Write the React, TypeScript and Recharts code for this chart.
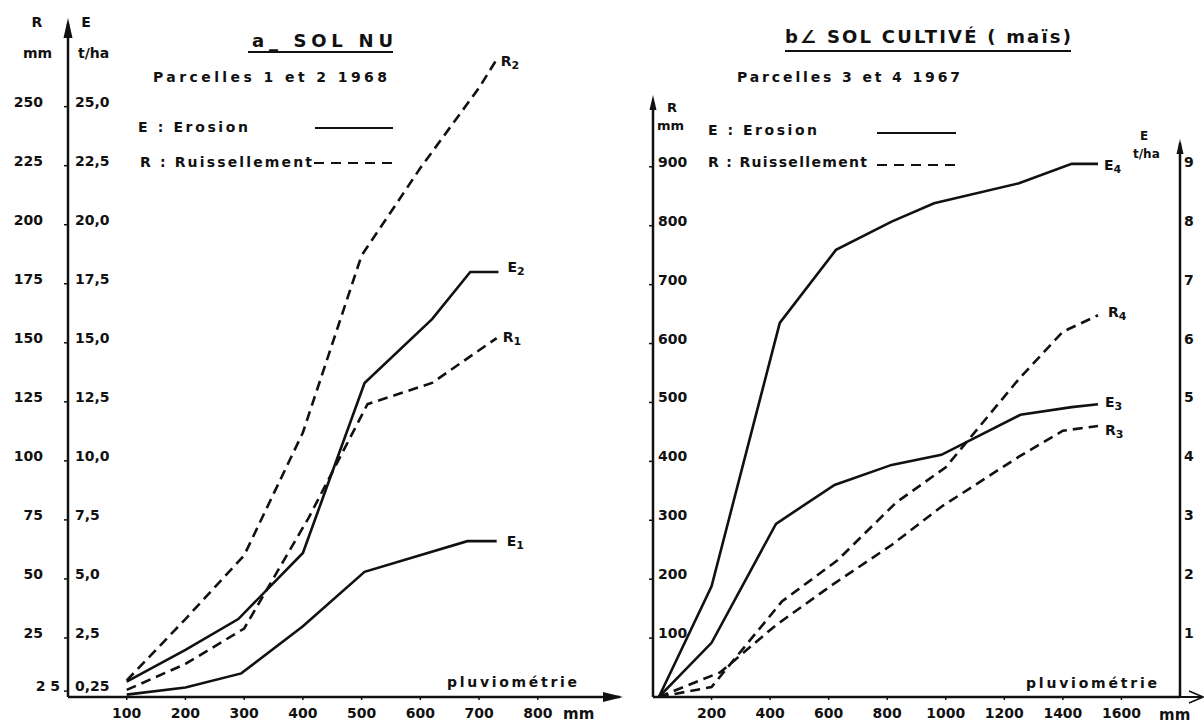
import React from "react";
import { LineChart, Line, XAxis, YAxis, ReferenceLine } from "recharts";

// ---- a : sol nu, parcelles 1 et 2 (1968) ----
// x = pluviométrie (mm), R = ruissellement (mm), E = érosion (t/ha)
const nuR2 = [
  { x: 100, y: 7 }, { x: 200, y: 33 }, { x: 300, y: 60 }, { x: 400, y: 112 },
  { x: 500, y: 187 }, { x: 600, y: 224 }, { x: 700, y: 258 }, { x: 730, y: 270 },
];
const nuR1 = [
  { x: 100, y: 3 }, { x: 200, y: 14 }, { x: 300, y: 29 }, { x: 410, y: 76 },
  { x: 510, y: 124 }, { x: 620, y: 133 }, { x: 730, y: 152 },
];
const nuE2 = [
  { x: 100, y: 0.65 }, { x: 200, y: 2.0 }, { x: 290, y: 3.3 }, { x: 400, y: 6.1 },
  { x: 505, y: 13.3 }, { x: 620, y: 16.0 }, { x: 685, y: 18.0 }, { x: 733, y: 18.0 },
];
const nuE1 = [
  { x: 100, y: 0.1 }, { x: 200, y: 0.4 }, { x: 295, y: 1.0 }, { x: 400, y: 3.0 },
  { x: 505, y: 5.3 }, { x: 680, y: 6.6 }, { x: 730, y: 6.6 },
];
const nuXTicks = [100, 200, 300, 400, 500, 600, 700, 800];
const nuYTicks = [2.5, 25, 50, 75, 100, 125, 150, 175, 200, 225, 250];
const nuRLabels = ["2 5", "25", "50", "75", "100", "125", "150", "175", "200", "225", "250"];
const nuELabels = ["0,25", "2,5", "5,0", "7,5", "10,0", "12,5", "15,0", "17,5", "20,0", "22,5", "25,0"];

// ---- b : sol cultivé (maïs), parcelles 3 et 4 (1967) ----
const cuE4 = [
  { x: 20, y: 0 }, { x: 200, y: 1.88 }, { x: 433, y: 6.35 }, { x: 625, y: 7.59 },
  { x: 815, y: 8.07 }, { x: 960, y: 8.38 }, { x: 1250, y: 8.72 }, { x: 1430, y: 9.05 }, { x: 1520, y: 9.05 },
];
const cuE3 = [
  { x: 20, y: 0 }, { x: 200, y: 0.92 }, { x: 420, y: 2.94 }, { x: 620, y: 3.6 },
  { x: 815, y: 3.94 }, { x: 985, y: 4.11 }, { x: 1255, y: 4.79 }, { x: 1430, y: 4.92 }, { x: 1520, y: 4.97 },
];
const cuR4 = [
  { x: 20, y: 0 }, { x: 200, y: 17 }, { x: 440, y: 162 }, { x: 630, y: 232 },
  { x: 830, y: 330 }, { x: 1000, y: 390 }, { x: 1250, y: 540 }, { x: 1400, y: 620 }, { x: 1520, y: 648 },
];
const cuR3 = [
  { x: 20, y: 0 }, { x: 230, y: 42 }, { x: 420, y: 122 }, { x: 620, y: 193 },
  { x: 815, y: 258 }, { x: 985, y: 323 }, { x: 1250, y: 408 }, { x: 1400, y: 452 }, { x: 1520, y: 460 },
];
const cuXTicks = [200, 400, 600, 800, 1000, 1200, 1400, 1600];
const cuRTicks = [100, 200, 300, 400, 500, 600, 700, 800, 900];
const cuETicks = [1, 2, 3, 4, 5, 6, 7, 8, 9];

const FONT = "DejaVu Sans";
const INK = "#111";
const DASH = "10 6";

const endLabel = (name: string, sub: string, count: number, dx: number, dy: number) => (props: any) => {
  if (props.index !== count - 1) return <g />;
  return (
    <text x={props.x + dx} y={props.y + dy} fontFamily={FONT} fontSize={14} fontWeight="bold" fill={INK}>
      {name}
      <tspan fontSize={11} dy={3}>{sub}</tspan>
    </text>
  );
};

const NuYTick = (props: any) => {
  const i = nuYTicks.indexOf(props.payload.value);
  return (
    <g fontFamily={FONT} fontSize={14} fontWeight="bold" fill={INK}>
      <text x={i === 0 ? 60 : 43} y={props.y} textAnchor="end">{nuRLabels[i]}</text>
      <text x={75} y={props.y}>{nuELabels[i]}</text>
    </g>
  );
};

const CuRTick = (props: any) => (
  <text x={58} y={props.y} fontFamily={FONT} fontSize={14} fontWeight="bold" fill={INK}>
    {props.payload.value}
  </text>
);

const CuETick = (props: any) => (
  <text x={584} y={props.y} fontFamily={FONT} fontSize={14} fontWeight="bold" fill={INK}>
    {props.payload.value}
  </text>
);

const xTickStyle = { fontFamily: FONT, fontSize: 14, fontWeight: "bold", fill: INK } as any;
const axisLine = { stroke: INK, strokeWidth: 2.5 };
const tickLine = { stroke: INK, strokeWidth: 1.5 };

export default function App() {
  const txt = { fontFamily: FONT, fill: INK, fontWeight: "bold" } as any;
  return (
    <div style={{ position: "absolute", left: 0, top: 0, width: 1204, height: 723, background: "#fff" }}>
      <div style={{ position: "absolute", left: 0, top: 0 }}>
        <LineChart width={620} height={723} margin={{ top: 24, right: 0, bottom: 0, left: 0 }}>
          <XAxis
            type="number"
            dataKey="x"
            domain={[0, 940]}
            ticks={nuXTicks}
            height={26}
            tickSize={3}
            tickMargin={8}
            tick={xTickStyle}
            axisLine={axisLine}
            tickLine={tickLine}
            allowDataOverflow
          />
          <YAxis
            yAxisId="R"
            type="number"
            domain={[0, 285]}
            ticks={nuYTicks}
            width={68}
            tickSize={4}
            tick={<NuYTick />}
            axisLine={axisLine}
            tickLine={tickLine}
            allowDataOverflow
          />
          <YAxis yAxisId="E" orientation="right" type="number" domain={[0, 28.5]} width={0} hide allowDataOverflow />
          <Line data={nuR2} dataKey="y" yAxisId="R" type="linear" stroke={INK} strokeWidth={2.6} strokeDasharray={DASH} dot={false} isAnimationActive={false} label={endLabel("R", "2", nuR2.length, 4, 7)} />
          <Line data={nuR1} dataKey="y" yAxisId="R" type="linear" stroke={INK} strokeWidth={2.6} strokeDasharray={DASH} dot={false} isAnimationActive={false} label={endLabel("R", "1", nuR1.length, 6, 4)} />
          <Line data={nuE2} dataKey="y" yAxisId="E" type="linear" stroke={INK} strokeWidth={2.6} dot={false} isAnimationActive={false} label={endLabel("E", "2", nuE2.length, 9, 0)} />
          <Line data={nuE1} dataKey="y" yAxisId="E" type="linear" stroke={INK} strokeWidth={2.6} dot={false} isAnimationActive={false} label={endLabel("E", "1", nuE1.length, 10, 5)} />
        </LineChart>
      </div>

      <div style={{ position: "absolute", left: 600, top: 0 }}>
        <LineChart width={604} height={723} margin={{ top: 102, right: 0, bottom: 0, left: 0 }}>
          <XAxis
            type="number"
            dataKey="x"
            domain={[0, 1800]}
            ticks={cuXTicks}
            height={26}
            tickSize={3}
            tickMargin={8}
            tick={xTickStyle}
            axisLine={axisLine}
            tickLine={tickLine}
            allowDataOverflow
          />
          <YAxis
            yAxisId="R"
            type="number"
            domain={[0, 1010]}
            ticks={cuRTicks}
            width={53}
            tickSize={4}
            tick={<CuRTick />}
            axisLine={axisLine}
            tickLine={tickLine}
            allowDataOverflow
          />
          <YAxis
            yAxisId="E"
            orientation="right"
            type="number"
            domain={[0, 10.1]}
            ticks={cuETicks}
            width={24}
            tickSize={0}
            tick={<CuETick />}
            axisLine={false}
            tickLine={false}
            allowDataOverflow
          />
          <ReferenceLine yAxisId="R" segment={[{ x: 1800, y: 0 }, { x: 1800, y: 940 }]} stroke={INK} strokeWidth={2.5} ifOverflow="visible" />
          <Line data={cuE4} dataKey="y" yAxisId="E" type="linear" stroke={INK} strokeWidth={2.6} dot={false} isAnimationActive={false} label={endLabel("E", "4", cuE4.length, 6, 6)} />
          <Line data={cuR4} dataKey="y" yAxisId="R" type="linear" stroke={INK} strokeWidth={2.6} strokeDasharray={DASH} dot={false} isAnimationActive={false} label={endLabel("R", "4", cuR4.length, 10, 2)} />
          <Line data={cuE3} dataKey="y" yAxisId="E" type="linear" stroke={INK} strokeWidth={2.6} dot={false} isAnimationActive={false} label={endLabel("E", "3", cuE3.length, 7, 3)} />
          <Line data={cuR3} dataKey="y" yAxisId="R" type="linear" stroke={INK} strokeWidth={2.6} strokeDasharray={DASH} dot={false} isAnimationActive={false} label={endLabel("R", "3", cuR3.length, 7, 9)} />
        </LineChart>
      </div>

      <svg width={1204} height={723} style={{ position: "absolute", left: 0, top: 0, pointerEvents: "none" }}>
        {/* arrow heads */}
        <polygon points="68,18 63.5,38 72.5,38" fill={INK} />
        <polygon points="623,697 603,692 603,702" fill={INK} />
        <polygon points="653,95 649.5,110 656.5,110" fill={INK} />
        <polygon points="1180,139 1176.5,154 1183.5,154" fill={INK} />
        <line x1={1180} y1={697} x2={1203} y2={697} stroke={INK} strokeWidth={2} />
        <polyline points="1189,691 1203,697 1189,703" fill="none" stroke={INK} strokeWidth={1.5} />

        {/* a : sol nu */}
        <g {...txt} fontSize={14}>
          <text x={37} y={27} textAnchor="middle">R</text>
          <text x={86} y={27} textAnchor="middle">E</text>
          <text x={23} y={58}>mm</text>
          <text x={78} y={58}>t/ha</text>
        </g>
        <text {...txt} x={252} y={47} fontSize={18} textLength={141} lengthAdjust="spacing">a_ SOL NU</text>
        <line x1={248} y1={52} x2={393} y2={52} stroke={INK} strokeWidth={2} />
        <text {...txt} x={153} y={82} fontSize={14} textLength={234} lengthAdjust="spacing">Parcelles 1 et 2 1968</text>
        <text {...txt} x={138} y={132} fontSize={14} textLength={110} lengthAdjust="spacing">E : Erosion</text>
        <line x1={315} y1={128} x2={393} y2={128} stroke={INK} strokeWidth={2} />
        <text {...txt} x={140} y={167} fontSize={14} textLength={172} lengthAdjust="spacing">R : Ruissellement</text>
        <line x1={314} y1={163} x2={393} y2={163} stroke={INK} strokeWidth={2} strokeDasharray="10 7" />
        <text {...txt} x={447} y={687} fontSize={14} textLength={130} lengthAdjust="spacing">pluviométrie</text>
        <text {...txt} x={563} y={719} fontSize={15}>mm</text>

        {/* b : sol cultivé */}
        <text {...txt} x={785} y={43} fontSize={18} textLength={286} lengthAdjust="spacing">b∠ SOL CULTIVÉ ( maïs)</text>
        <line x1={785} y1={51} x2={1071} y2={51} stroke={INK} strokeWidth={2} />
        <text {...txt} x={737} y={82} fontSize={14} textLength={223} lengthAdjust="spacing">Parcelles 3 et 4 1967</text>
        <g {...txt} fontSize={13}>
          <text x={667} y={112}>R</text>
          <text x={657} y={130}>mm</text>
        </g>
        <g {...txt} fontSize={12}>
          <text x={1140} y={140}>E</text>
          <text x={1133} y={158}>t/ha</text>
        </g>
        <text {...txt} x={708} y={135} fontSize={14} textLength={109} lengthAdjust="spacing">E : Erosion</text>
        <line x1={877} y1={133} x2={956} y2={133} stroke={INK} strokeWidth={2} />
        <text {...txt} x={708} y={167} fontSize={14} textLength={159} lengthAdjust="spacing">R : Ruissellement</text>
        <line x1={877} y1={165} x2={956} y2={165} stroke={INK} strokeWidth={2} strokeDasharray="10 7" />
        <text {...txt} x={1026} y={688} fontSize={14} textLength={131} lengthAdjust="spacing">pluviométrie</text>
        <text {...txt} x={1159} y={720} fontSize={15}>mm</text>
      </svg>
    </div>
  );
}
